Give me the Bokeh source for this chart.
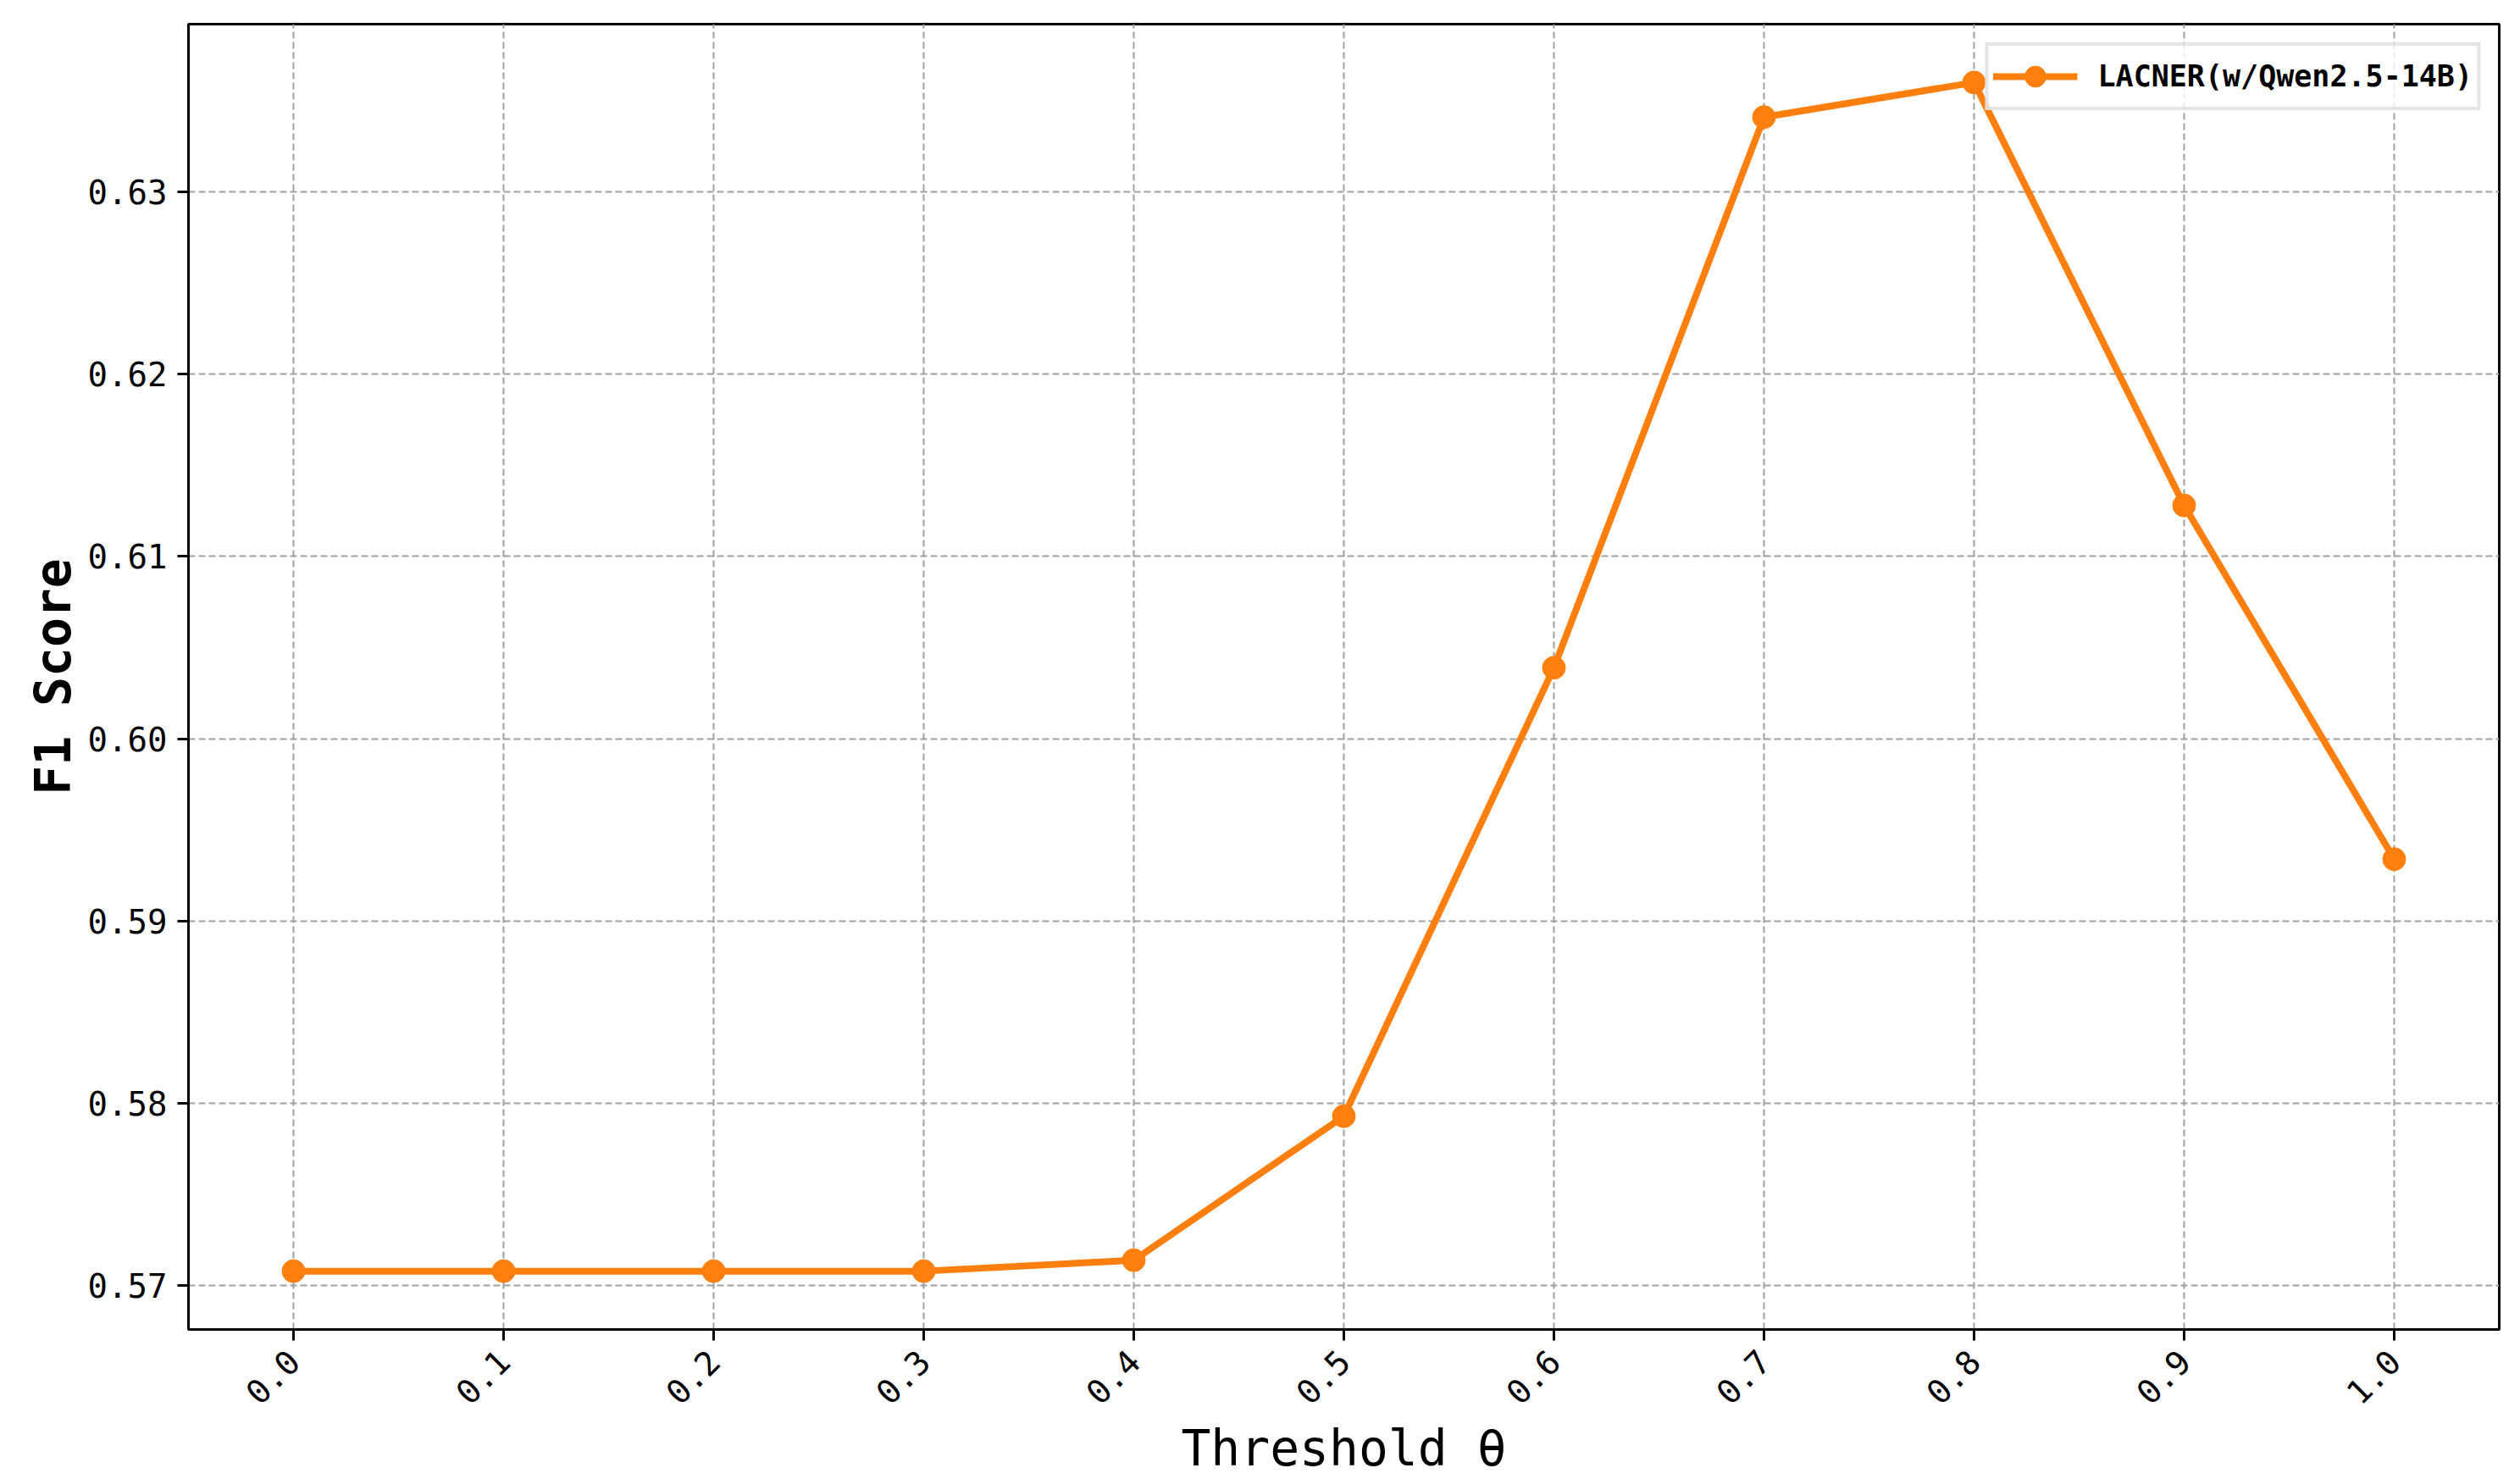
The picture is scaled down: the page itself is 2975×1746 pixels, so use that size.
import math
from bokeh.plotting import figure
from bokeh.models import Range1d, FixedTicker, Legend
from bokeh.embed import file_html
from bokeh.resources import INLINE

thresholds = [0.0, 0.1, 0.2, 0.3, 0.4, 0.5, 0.6, 0.7, 0.8, 0.9, 1.0]
f1_scores = [0.5708, 0.5708, 0.5708, 0.5708, 0.5714, 0.5793, 0.6039, 0.6341, 0.6360, 0.6128, 0.5934]
series_name = "LACNER(w/Qwen2.5-14B)"
y_ticks = [0.57, 0.58, 0.59, 0.60, 0.61, 0.62, 0.63]
y_tick_labels = ["0.57", "0.58", "0.59", "0.60", "0.61", "0.62", "0.63"]
x_tick_labels = ["0.0", "0.1", "0.2", "0.3", "0.4", "0.5", "0.6", "0.7", "0.8", "0.9", "1.0"]

FONT = "DejaVu Sans Mono"
ORANGE = "#ff7f0e"

p = figure(width=2975, height=1746, output_backend="svg", toolbar_location=None,
           x_range=Range1d(-0.05, 1.05), y_range=Range1d(0.5676, 0.6392),
           min_border_left=222, min_border_right=25, min_border_top=28, min_border_bottom=177)

p.outline_line_color = "black"
p.outline_line_width = 3

r_line = p.line(thresholds, f1_scores, line_color=ORANGE, line_width=8)
r_pts = p.scatter(thresholds, f1_scores, size=27, fill_color=ORANGE, line_color=ORANGE)

legend = Legend(items=[(series_name, [r_line, r_pts])], location="top_right")
legend.label_text_font = FONT
legend.label_text_font_size = "35px"
legend.label_text_font_style = "bold"
legend.label_text_color = "black"
legend.border_line_color = "#cccccc"
legend.border_line_width = 4
legend.background_fill_alpha = 0.8
legend.glyph_width = 100
legend.glyph_height = 62
legend.label_height = 62
legend.label_standoff = 24
legend.padding = 5
legend.margin = 22
p.add_layout(legend)

p.xaxis.ticker = FixedTicker(ticks=thresholds)
p.xaxis.major_label_overrides = {t: l for t, l in zip(thresholds, x_tick_labels)}
p.yaxis.ticker = FixedTicker(ticks=y_ticks)
p.yaxis.major_label_overrides = {t: l for t, l in zip(y_ticks, y_tick_labels)}
p.xaxis.major_label_orientation = math.pi / 4

for ax in (p.xaxis, p.yaxis):
    ax.axis_line_color = "black"
    ax.axis_line_width = 3
    ax.major_tick_line_color = "black"
    ax.major_tick_line_width = 3
    ax.major_tick_out = 13
    ax.major_tick_in = 0
    ax.minor_tick_line_color = None
    ax.major_label_text_font = FONT
    ax.major_label_text_font_size = "39px"
    ax.major_label_text_color = "black"
    ax.axis_label_text_font = FONT
    ax.axis_label_text_font_size = "58px"
    ax.axis_label_text_color = "black"

p.xaxis.axis_label = "Threshold θ"
p.xaxis.axis_label_text_font_style = "normal"
p.xaxis.major_label_standoff = 18
p.xaxis.axis_label_standoff = 2
p.yaxis.axis_label = "F1 Score"
p.yaxis.axis_label_text_font_style = "bold"
p.yaxis.major_label_standoff = 12
p.yaxis.axis_label_standoff = 4

p.grid.grid_line_color = "#a0a0a0"
p.grid.grid_line_width = 2
p.grid.grid_line_dash = "8 4"

open("out.html", "w").write(file_html(p, INLINE))
